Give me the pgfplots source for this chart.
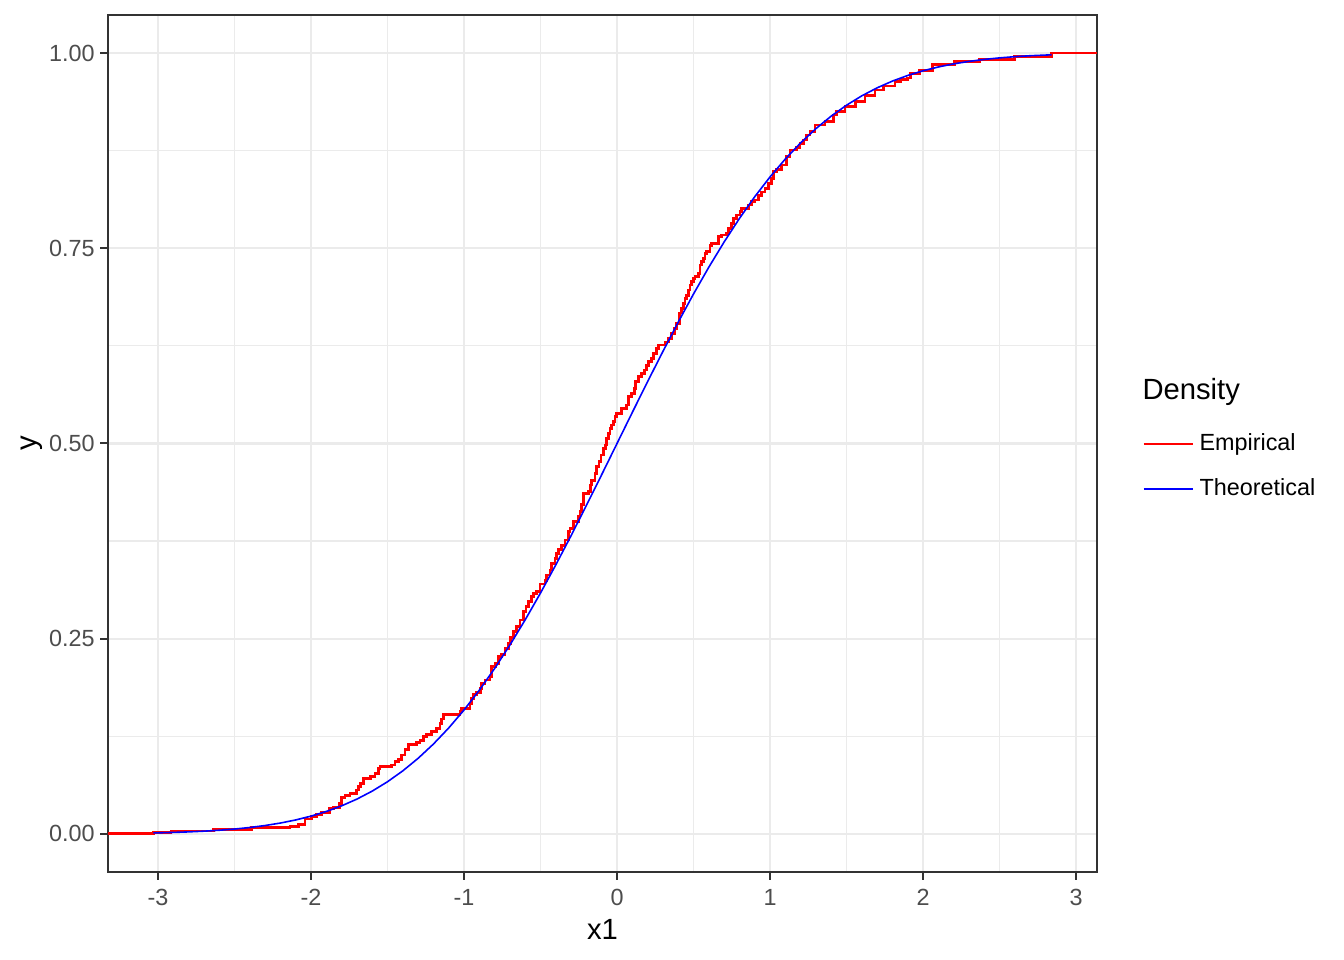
\documentclass[border=0pt]{standalone}
\usepackage{fontspec}
\setmainfont{Liberation Sans}
\usepackage{pgfplots}
\pgfplotsset{compat=1.18}
\definecolor{gridc}{HTML}{EBEBEB}
\definecolor{tickc}{HTML}{4D4D4D}
\definecolor{framec}{HTML}{333333}
\begin{document}
\begin{tikzpicture}
\begin{axis}[
  scale only axis, width=372.2pt, height=322.5pt,
  xmin=-3.327, xmax=3.137, ymin=-0.0487, ymax=1.0487,
  xtick={-3,-2,-1,0,1,2,3}, ytick={0,0.25,0.5,0.75,1},
  minor xtick={-2.5,-1.5,-0.5,0.5,1.5,2.5},
  minor ytick={0.125,0.375,0.625,0.875},
  grid=both,
  major grid style={gridc, line width=0.8pt},
  minor grid style={gridc, line width=0.45pt},
  tick align=outside, tick pos=left,
  major tick length=3pt, minor tick length=0pt,
  tick style={framec, line width=0.75pt},
  axis line style={framec, line width=0.75pt},
  ticklabel style={font=\fontsize{8.8}{10}\selectfont, text=tickc},
  /pgf/number format/assume math mode=true,
  yticklabel style={/pgf/number format/fixed, /pgf/number format/fixed zerofill, /pgf/number format/precision=2, xshift=1.5pt},
  xlabel={x1}, ylabel={y},
  label style={font=\fontsize{11}{13}\selectfont},
  xlabel style={at={(axis description cs:0.5,-0.0677)}, anchor=center},
  ylabel style={at={(axis description cs:-0.0768,0.5)}, anchor=center},
  legend style={at={(axis description cs:1.0455,0.473)}, anchor=west, draw=none, fill=none,
    font=\fontsize{8.8}{10}\selectfont, row sep=5.1pt, inner sep=0pt, nodes={inner sep=2pt}},
  legend cell align=left,
  legend image code/.code={\draw[#1] (0pt,0pt) -- (13.9pt,0pt); \path (0pt,0pt) -- (18.4pt,0pt);},
]
\addplot[const plot, color=red, line width=1.07pt] coordinates {
(-3.327,0) (-3.03,0.002) (-2.915,0.0038) (-2.64,0.0056) (-2.39,0.008) (-2.137,0.0094)
(-2.083,0.0124) (-2.039,0.019) (-1.996,0.022) (-1.963,0.0243) (-1.930,0.0278) (-1.880,0.032)
(-1.854,0.0337) (-1.815,0.0393) (-1.800,0.0465) (-1.778,0.049) (-1.745,0.052) (-1.701,0.0563)
(-1.691,0.0606) (-1.675,0.065) (-1.658,0.0713) (-1.614,0.0734) (-1.582,0.0777) (-1.560,0.0841)
(-1.549,0.0862) (-1.473,0.0883) (-1.451,0.0926) (-1.429,0.0956) (-1.407,0.101) (-1.386,0.1076)
(-1.364,0.114) (-1.309,0.117) (-1.288,0.120) (-1.266,0.1246) (-1.244,0.1277) (-1.211,0.131)
(-1.179,0.1353) (-1.157,0.1417) (-1.146,0.1472) (-1.135,0.1524) (-1.026,0.1566) (-1.015,0.161)
(-0.961,0.1673) (-0.950,0.1737) (-0.939,0.178) (-0.917,0.1814) (-0.895,0.1866) (-0.884,0.193)
(-0.863,0.197) (-0.830,0.2014) (-0.819,0.214) (-0.797,0.2185) (-0.776,0.227) (-0.754,0.230)
(-0.732,0.2377) (-0.710,0.244) (-0.695,0.2514) (-0.678,0.259) (-0.656,0.2654) (-0.634,0.274)
(-0.612,0.2846) (-0.595,0.291) (-0.580,0.2975) (-0.558,0.304) (-0.547,0.308) (-0.525,0.310)
(-0.503,0.320) (-0.471,0.325) (-0.460,0.3316) (-0.438,0.338) (-0.427,0.3466) (-0.405,0.353)
(-0.394,0.3594) (-0.383,0.3645) (-0.362,0.3688) (-0.340,0.3764) (-0.318,0.387) (-0.307,0.3914)
(-0.285,0.400) (-0.253,0.4063) (-0.242,0.4127) (-0.231,0.4213) (-0.220,0.436) (-0.187,0.4383)
(-0.176,0.4469) (-0.166,0.453) (-0.144,0.4618) (-0.133,0.4703) (-0.118,0.4767) (-0.105,0.4853)
(-0.089,0.4938) (-0.078,0.498) (-0.067,0.5066) (-0.057,0.513) (-0.046,0.5194) (-0.035,0.5237)
(-0.024,0.528) (-0.013,0.5343) (-0.002,0.5387) (0.031,0.545) (0.063,0.5493) (0.074,0.560)
(0.096,0.5643) (0.113,0.5707) (0.122,0.5792) (0.139,0.5855) (0.161,0.590) (0.179,0.594)
(0.194,0.5996) (0.205,0.6047) (0.227,0.609) (0.237,0.6155) (0.259,0.622) (0.270,0.626)
(0.314,0.630) (0.335,0.6347) (0.357,0.641) (0.375,0.6475) (0.39,0.654) (0.41,0.667)
(0.423,0.673) (0.434,0.6795) (0.444,0.686) (0.455,0.690) (0.466,0.6966) (0.477,0.703)
(0.488,0.707) (0.499,0.7115) (0.510,0.7136) (0.532,0.718) (0.542,0.7286) (0.553,0.733)
(0.564,0.737) (0.575,0.7435) (0.586,0.7456) (0.608,0.754) (0.619,0.7564) (0.662,0.765)
(0.684,0.767) (0.717,0.769) (0.728,0.7755) (0.750,0.782) (0.760,0.788) (0.782,0.7926)
(0.804,0.797) (0.815,0.801) (0.858,0.8054) (0.880,0.8096) (0.902,0.8118) (0.924,0.818)
(0.946,0.822) (0.967,0.8267) (0.989,0.833) (1.011,0.8395) (1.022,0.848) (1.044,0.851)
(1.076,0.8566) (1.109,0.867) (1.131,0.8758) (1.174,0.879) (1.196,0.884) (1.218,0.8886)
(1.240,0.895) (1.261,0.899) (1.294,0.9078) (1.359,0.912) (1.414,0.9206) (1.436,0.925)
(1.490,0.9313) (1.556,0.9376) (1.621,0.946) (1.686,0.9526) (1.741,0.9577) (1.817,0.963)
(1.850,0.966) (1.90,0.968) (1.92,0.974) (1.975,0.978) (2.06,0.9856) (2.205,0.9894)
(2.37,0.992) (2.60,0.996) (2.84,1.0) (3.137,1.0)
};
\addlegendentry{Empirical}
\addplot[color=blue, line width=0.6pt] coordinates {
(-3.03,0.00122) (-2.9,0.00187) (-2.8,0.00256) (-2.7,0.00347) (-2.6,0.00466) (-2.5,0.00621)
(-2.4,0.00820) (-2.3,0.01072) (-2.2,0.01390) (-2.1,0.01786) (-2.0,0.02275) (-1.9,0.02872)
(-1.8,0.03593) (-1.7,0.04457) (-1.6,0.05480) (-1.5,0.06681) (-1.4,0.08076) (-1.3,0.09680)
(-1.2,0.11507) (-1.1,0.13567) (-1.0,0.15866) (-0.9,0.18406) (-0.8,0.21186) (-0.7,0.24196)
(-0.6,0.27425) (-0.5,0.30854) (-0.4,0.34458) (-0.3,0.38209) (-0.2,0.42074) (-0.1,0.46017)
(0,0.5) (0.1,0.53983) (0.2,0.57926) (0.3,0.61791) (0.4,0.65542) (0.5,0.69146)
(0.6,0.72575) (0.7,0.75804) (0.8,0.78814) (0.9,0.81594) (1.0,0.84134) (1.1,0.86433)
(1.2,0.88493) (1.3,0.90320) (1.4,0.91924) (1.5,0.93319) (1.6,0.94520) (1.7,0.95543)
(1.8,0.96407) (1.9,0.97128) (2.0,0.97725) (2.1,0.98214) (2.2,0.98610) (2.3,0.98928)
(2.4,0.99180) (2.5,0.99379) (2.6,0.99534) (2.7,0.99653) (2.84,0.99774)
};
\addlegendentry{Theoretical}
\end{axis}
\node[anchor=west, font=\fontsize{11}{13}\selectfont, inner sep=0pt] at ([shift={(16.94pt,19.35pt)}]current axis.east) {Density};
\pgfresetboundingbox
\path[use as bounding box] (current axis.south west) ++(-40.65pt,-33.12pt) rectangle ([shift={(92.97pt,5.65pt)}]current axis.north east);
\end{tikzpicture}
\end{document}
